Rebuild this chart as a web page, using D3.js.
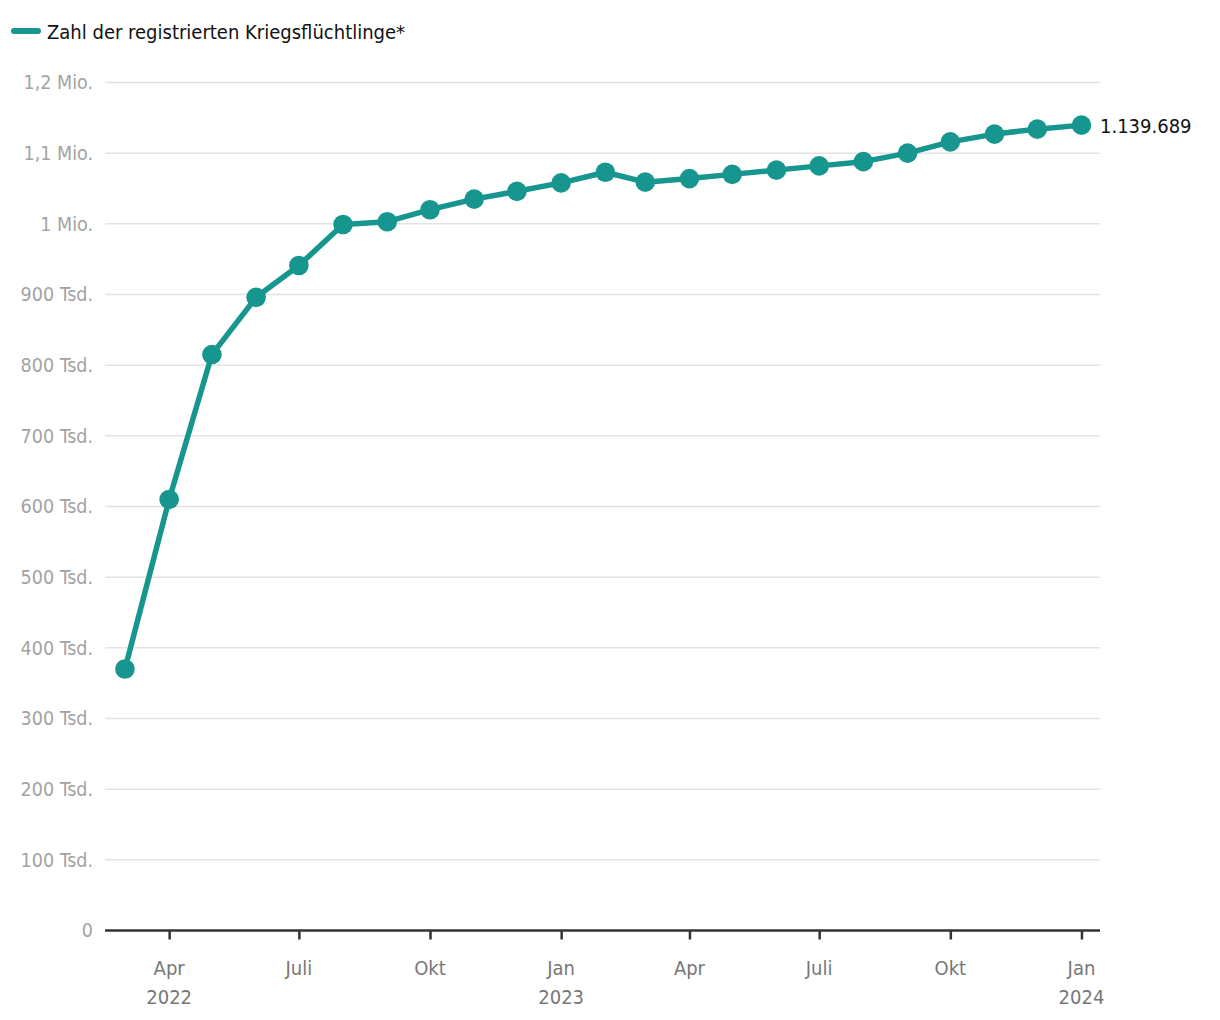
<!DOCTYPE html>
<html>
<head>
<meta charset="utf-8">
<script src="https://cdn.jsdelivr.net/npm/d3@7"></script>
<style>
  html, body { margin: 0; padding: 0; background: #fff; }
  svg { display: block; font-family: "Liberation Sans Narrow", "DejaVu Sans Condensed", Roboto, sans-serif; }
</style>
</head>
<body>
<svg id="chart" width="1220" height="1020"></svg>
<script>
const seriesName = "Zahl der registrierten Kriegsflüchtlinge*";
const months = ["2022-03","2022-04","2022-05","2022-06","2022-07","2022-08","2022-09","2022-10","2022-11","2022-12",
  "2023-01","2023-02","2023-03","2023-04","2023-05","2023-06","2023-07","2023-08","2023-09","2023-10","2023-11","2023-12","2024-01"];
const values = [370000, 610000, 815000, 896000, 941000, 999000, 1003000, 1020000, 1035000, 1046000,
  1058000, 1073000, 1059000, 1064000, 1070000, 1076000, 1082000, 1088000, 1100000, 1116000, 1127000, 1134000, 1139689];
const yTicks = [0, 100000, 200000, 300000, 400000, 500000, 600000, 700000, 800000, 900000, 1000000, 1100000, 1200000];
const yTickLabels = ["0","100 Tsd.","200 Tsd.","300 Tsd.","400 Tsd.","500 Tsd.","600 Tsd.","700 Tsd.","800 Tsd.","900 Tsd.","1 Mio.","1,1 Mio.","1,2 Mio."];
const xTickDates = ["2022-04","2022-07","2022-10","2023-01","2023-04","2023-07","2023-10","2024-01"];
const xTickMonths = ["Apr","Juli","Okt","Jan","Apr","Juli","Okt","Jan"];
const xTickYears = ["2022","","","2023","","","","2024"];
const endLabel = "1.139.689";

const parse = d3.timeParse("%Y-%m");
const data = months.map((m, i) => ({ date: parse(m), value: values[i] }));

const color = "#16968f";
const svg = d3.select("#chart");

const x = d3.scaleTime()
  .domain([new Date(2022, 1, 15), new Date(2024, 0, 14)])
  .range([105, 1100]);
const y = d3.scaleLinear().domain([0, 1200000]).range([930.5, 82.5]);

// gridlines
svg.append("g").selectAll("line").data(yTicks.filter(d => d > 0)).join("line")
  .attr("x1", 105).attr("x2", 1100)
  .attr("y1", d => y(d)).attr("y2", d => y(d))
  .attr("stroke", "#e3e3e3").attr("stroke-width", 1.5);

// y labels
svg.append("g").selectAll("text").data(yTicks).join("text")
  .attr("x", 93).attr("y", d => y(d))
  .attr("dy", "0.35em")
  .attr("text-anchor", "end")
  .attr("fill", "#a3a3a3")
  .attr("font-size", 19.5)
  .text((d, i) => yTickLabels[i]);

// x axis
const xAxis = d3.axisBottom(x)
  .tickValues(xTickDates.map(parse))
  .tickSize(9)
  .tickFormat("");
const gx = svg.append("g").attr("transform", "translate(0,930.5)").call(xAxis);
gx.select(".domain").attr("stroke", "#333").attr("stroke-width", 2.5).attr("d", "M105,0H1100");
gx.selectAll(".tick line").attr("stroke", "#333").attr("stroke-width", 2.5);

const xl = svg.append("g");
xTickDates.forEach((d, i) => {
  const px = x(parse(d));
  xl.append("text").attr("x", px).attr("y", 975).attr("text-anchor", "middle")
    .attr("fill", "#777").attr("font-size", 20).text(xTickMonths[i]);
  if (xTickYears[i]) xl.append("text").attr("x", px).attr("y", 1004).attr("text-anchor", "middle")
    .attr("fill", "#777").attr("font-size", 20).text(xTickYears[i]);
});

// line
const line = d3.line().x(d => x(d.date)).y(d => y(d.value));
svg.append("path").datum(data)
  .attr("d", line)
  .attr("fill", "none")
  .attr("stroke", color)
  .attr("stroke-width", 5.5)
  .attr("stroke-linejoin", "round");

svg.append("g").selectAll("circle").data(data).join("circle")
  .attr("cx", d => x(d.date)).attr("cy", d => y(d.value))
  .attr("r", 9.8).attr("fill", color);

// end label
const last = data[data.length - 1];
svg.append("text").attr("x", 1100).attr("y", y(last.value)).attr("dy", "0.38em")
  .attr("fill", "#111").attr("font-size", 20).text(endLabel);

// legend
svg.append("line").attr("x1", 14).attr("x2", 38).attr("y1", 31).attr("y2", 31)
  .attr("stroke", color).attr("stroke-width", 6).attr("stroke-linecap", "round");
svg.append("text").attr("x", 47).attr("y", 31).attr("dy", "0.38em")
  .attr("fill", "#111").attr("font-size", 20).text(seriesName);
</script>
</body>
</html>
